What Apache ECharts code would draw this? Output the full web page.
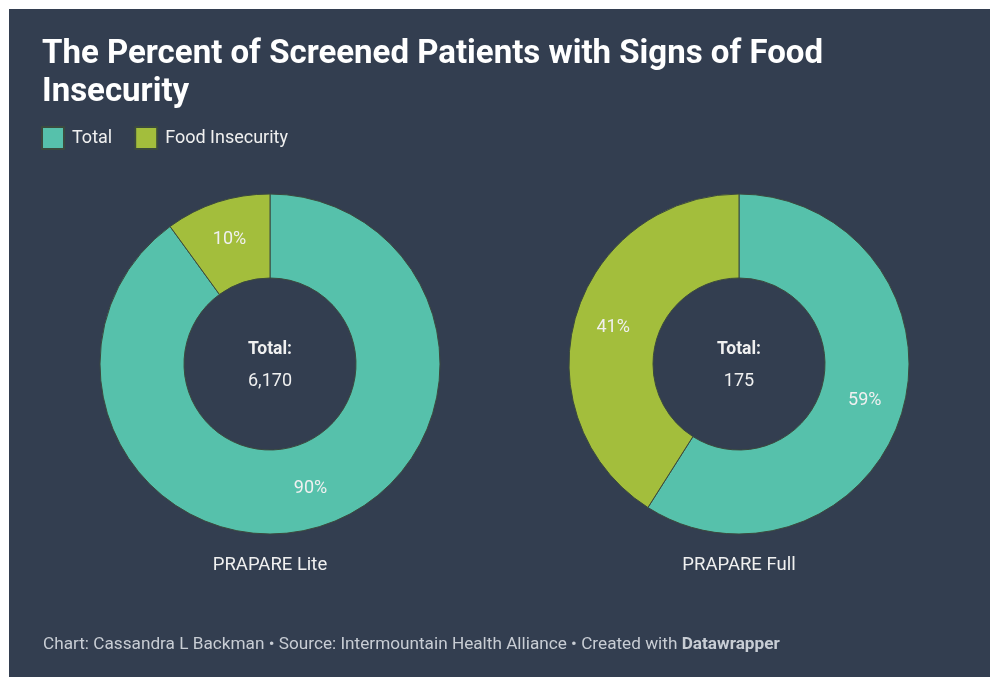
<!DOCTYPE html>
<html>
<head>
<meta charset="utf-8">
<script src="https://cdn.jsdelivr.net/npm/echarts@6/dist/echarts.min.js"></script>
<style>
  html, body { margin: 0; padding: 0; background: #fff; }
  #chart { width: 990px; height: 677px; }
</style>
</head>
<body>
<div id="chart"></div>
<script>
// data
const seriesNames = ['Total', 'Food Insecurity']
const surveys = ['PRAPARE Lite', 'PRAPARE Full']
const surveyTotals = ['6,170', '175']
const litePercent = [90, 10]
const fullPercent = [59, 41]

const bg = '#333e50'
const colors = ['#56c1ab', '#a3be3c']
const centersX = [270, 739]
const centerY = 364

const chart = echarts.init(document.getElementById('chart'))

function pieSeries(values, cx) {
  return {
    type: 'pie',
    center: [cx, centerY],
    radius: [86, 170],
    startAngle: 90,
    clockwise: true,
    silent: true,
    itemStyle: { borderColor: '#3b4a3e', borderWidth: 1 },
    label: {
      show: true,
      position: 'inside',
      formatter: '{c}%',
      color: '#f0f0f0',
      fontSize: 18,
      fontFamily: 'Roboto'
    },
    labelLine: { show: false },
    emphasis: { scale: false },
    data: seriesNames.map((n, i) => ({ name: n, value: values[i] }))
  }
}

const graphics = [
  { type: 'rect', z: -10, shape: { x: 9, y: 9, width: 990, height: 677 }, style: { fill: bg } }
]
surveys.forEach((s, i) => {
  graphics.push({
    type: 'text', x: centersX[i], y: 350,
    style: { text: 'Total:', fill: '#f0f0f0', font: 'bold 17.5px Roboto', textAlign: 'center', textVerticalAlign: 'middle' }
  })
  graphics.push({
    type: 'text', x: centersX[i], y: 381,
    style: { text: surveyTotals[i], fill: '#f0f0f0', font: '18px Roboto', textAlign: 'center', textVerticalAlign: 'middle' }
  })
  graphics.push({
    type: 'text', x: centersX[i], y: 565,
    style: { text: s, fill: '#f0f0f0', font: '18.5px Roboto', textAlign: 'center', textVerticalAlign: 'middle' }
  })
})
graphics.push({
  type: 'text', x: 43, y: 645,
  style: {
    text: '{n|Chart: Cassandra L Backman • Source: Intermountain Health Alliance • Created with }{b|Datawrapper}',
    textVerticalAlign: 'middle',
    rich: {
      n: { fill: '#c8cdd4', fontSize: 17.2, fontFamily: 'Roboto' },
      b: { fill: '#c8cdd4', fontSize: 17.2, fontFamily: 'Roboto', fontWeight: 'bold' }
    }
  }
})

chart.setOption({
  animation: false,
  backgroundColor: '#fff',
  color: colors,
  title: {
    text: 'The Percent of Screened Patients with Signs of Food\nInsecurity',
    left: 37,
    top: 31,
    textStyle: {
      color: '#ffffff',
      fontFamily: 'Roboto',
      fontWeight: 'bold',
      fontSize: 33,
      lineHeight: 38
    }
  },
  legend: {
    data: seriesNames,
    left: 36,
    top: 121,
    icon: 'rect',
    itemWidth: 22,
    itemHeight: 22,
    itemGap: 22,
    selectedMode: false,
    textStyle: { color: '#f0f0f0', fontSize: 18, fontFamily: 'Roboto', padding: [0, 0, 0, 3] }
  },
  graphic: graphics,
  series: [pieSeries(litePercent, centersX[0]), pieSeries(fullPercent, centersX[1])]
})
</script>
</body>
</html>
